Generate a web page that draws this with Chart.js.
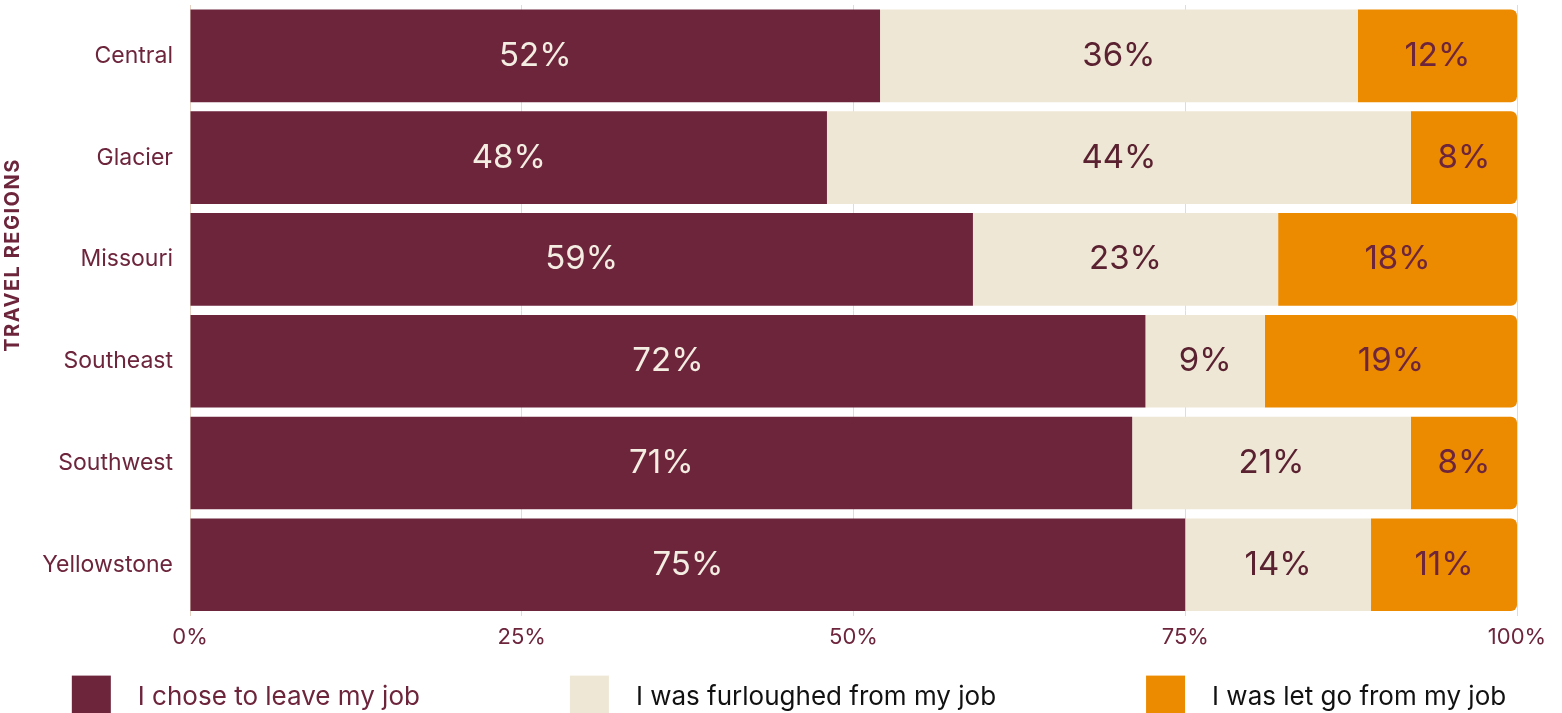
<!DOCTYPE html>
<html>
<head>
<meta charset="utf-8">
<script src="https://cdn.jsdelivr.net/npm/chart.js@4.4.1/dist/chart.umd.min.js"></script>
<style>
    body { margin: 0; overflow: hidden; background: #fff; }
    canvas { display: block; }
</style>
</head>
<body>
<canvas id="regionChart" width="1562" height="725"></canvas>
<script>
// Data
const regions = ['Central', 'Glacier', 'Missouri', 'Southeast', 'Southwest', 'Yellowstone'];
const choseToLeave = [52, 48, 59, 72, 71, 75];
const furloughed = [36, 44, 23, 9, 21, 14];
const letGo = [12, 8, 18, 19, 8, 11];
const seriesNames = ['I chose to leave my job', 'I was furloughed from my job', 'I was let go from my job'];
const xTicks = [0, 25, 50, 75, 100];

const FONT = 'Inter, "Open Sans", sans-serif';
const maroon = '#6d253c';
const beige = '#efe7d6';
const orange = '#ec8a00';

// labels inside each segment
const valueLabels = {
    id: 'valueLabels',
    afterDatasetsDraw(chart) {
        const ctx = chart.ctx;
        const colors = ['#f4ede2', '#5a2230', '#6d253c'];
        ctx.save();
        ctx.font = '33px ' + FONT;
        ctx.textAlign = 'center';
        ctx.textBaseline = 'middle';
        chart.data.datasets.forEach((ds, i) => {
            chart.getDatasetMeta(i).data.forEach((bar, j) => {
                const cx = (bar.x + bar.base) / 2;
                ctx.fillStyle = colors[i];
                ctx.fillText(ds.data[j] + '%', cx, bar.y);
            });
        });
        ctx.restore();
    }
};

// axis title and legend drawn at the bottom
const extras = {
    id: 'extras',
    afterDraw(chart) {
        const ctx = chart.ctx;
        const area = chart.chartArea;
        ctx.save();

        ctx.translate(13, 255);
        ctx.rotate(-Math.PI / 2);
        ctx.font = 'bold 20px ' + FONT;
        ctx.letterSpacing = '1.5px';
        ctx.fillStyle = maroon;
        ctx.textAlign = 'center';
        ctx.textBaseline = 'middle';
        ctx.fillText('TRAVEL REGIONS', 0, 0);
        ctx.restore();

        ctx.save();
        const boxW = 39, boxH = 40, textGap = 27, itemGap = 150;
        const textColors = [maroon, '#111111', '#111111'];
        ctx.font = '26px ' + FONT;
        const items = chart.data.datasets.map((ds, i) => {
            const tw = ctx.measureText(ds.label).width;
            return { label: ds.label, fill: ds.backgroundColor, color: textColors[i], w: boxW + textGap + tw };
        });
        const total = items.reduce((s, it) => s + it.w, 0) + itemGap * (items.length - 1);
        let x = (chart.width - total) / 2 + 8;
        const top = area.bottom + 60;
        ctx.textBaseline = 'middle';
        items.forEach(it => {
            ctx.fillStyle = it.fill;
            ctx.fillRect(x, top, boxW, boxH);
            ctx.fillStyle = it.color;
            ctx.fillText(it.label, x + boxW + textGap, top + 22);
            x += it.w + itemGap;
        });
        ctx.restore();
    }
};

const ctx = document.getElementById('regionChart').getContext('2d');
const regionChart = new Chart(ctx, {
    type: 'bar',
    data: {
        labels: regions,
        datasets: [
            {
                label: seriesNames[0],
                data: choseToLeave,
                backgroundColor: maroon,
            },
            {
                label: seriesNames[1],
                data: furloughed,
                backgroundColor: beige,
            },
            {
                label: seriesNames[2],
                data: letGo,
                backgroundColor: orange,
                borderSkipped: false,
                borderRadius: { topLeft: 0, bottomLeft: 0, topRight: 6, bottomRight: 6 },
            }
        ]
    },
    options: {
        indexAxis: 'y',
        responsive: false,
        animation: false,
        categoryPercentage: 1,
        barPercentage: 0.91,
        layout: {
            padding: { top: 5, right: 45, bottom: 65, left: 0 }
        },
        plugins: {
            legend: { display: false },
            tooltip: { enabled: false }
        },
        scales: {
            x: {
                stacked: true,
                min: 0,
                max: 100,
                afterBuildTicks: (axis) => { axis.ticks = xTicks.map(v => ({ value: v })); },
                grid: { color: '#dddddd', drawTicks: false },
                border: { display: false },
                ticks: {
                    padding: 9,
                    color: maroon,
                    font: { family: FONT, size: 22 },
                    callback: (v) => v + '%'
                }
            },
            y: {
                stacked: true,
                afterFit: (scale) => {
                    scale.width = 190;
                    scale.paddingTop = 0;
                    scale.paddingBottom = 0;
                },
                grid: { display: false, drawTicks: false },
                border: { display: true, color: '#e6d2c2' },
                ticks: {
                    padding: 17,
                    color: maroon,
                    font: { family: FONT, size: 23 }
                }
            }
        }
    },
    plugins: [valueLabels, extras]
});
</script>
</body>
</html>
